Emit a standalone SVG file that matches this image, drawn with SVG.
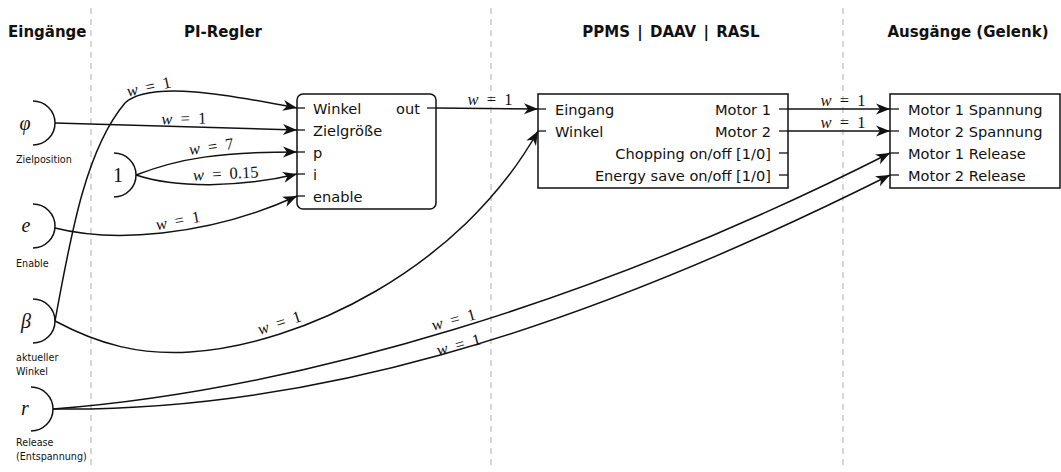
<svg xmlns="http://www.w3.org/2000/svg" width="1061" height="472" viewBox="0 0 1061 472">
<style>
.sep{stroke:#bbbbbb;stroke-width:1.2;stroke-dasharray:6,5;fill:none}
.title{font-family:"DejaVu Sans",sans-serif;font-weight:bold;font-size:15px;fill:#111}
.port{font-family:"DejaVu Sans",sans-serif;font-size:14.6px;fill:#111}
.small{font-family:"DejaVu Sans",sans-serif;font-size:9.6px;fill:#111}
.sym{font-family:"Liberation Serif",serif;font-style:italic;font-size:20px;fill:#111}
.num{font-family:"Liberation Serif",serif;font-size:20px;fill:#111}
.w{font-family:"Liberation Serif",serif;font-size:16.5px;fill:#111;word-spacing:4px}
.w tspan{font-style:italic}
.box{fill:#fff;stroke:#111;stroke-width:1.5}
.arc{fill:none;stroke:#111;stroke-width:1.5}
.stub{stroke:#111;stroke-width:1.3}
.edge{fill:none;stroke:#111;stroke-width:1.5;marker-end:url(#ah)}
</style>
<defs>
<marker id="ah" markerUnits="userSpaceOnUse" markerWidth="16" markerHeight="13" viewBox="-15 -6.5 16 13" refX="0" refY="0" orient="auto">
<path d="M0,0 L-14,-5.5 L-10,0 L-14,5.5 Z" fill="#111"/>
</marker>
</defs>
<rect width="1061" height="472" fill="#fff"/>
<g id="separators">
<line class="sep" x1="91" y1="8" x2="91" y2="470"/>
<line class="sep" x1="491" y1="8" x2="491" y2="470"/>
<line class="sep" x1="843" y1="8" x2="843" y2="470"/>
</g>
<g id="titles">
<text class="title" x="8" y="37">Eingänge</text>
<text class="title" x="223" y="37" text-anchor="middle">PI-Regler</text>
<text class="title" x="671" y="37" text-anchor="middle" style="word-spacing:2px">PPMS | DAAV | RASL</text>
<text class="title" x="968" y="37" text-anchor="middle">Ausgänge (Gelenk)</text>
</g>
<g id="in-phi">
<path class="arc" d="M33,101 A22,22 0 0 1 33,145"/>
<text class="sym" x="25" y="130" text-anchor="middle">φ</text>
<text class="small" x="16" y="163">Zielposition</text>
</g>
<g id="const-1">
<path class="arc" d="M114,153 A22,22 0 0 1 114,197"/>
<text class="num" x="118" y="182" text-anchor="middle">1</text>
</g>
<g id="in-e">
<path class="arc" d="M33,204 A22,22 0 0 1 33,248"/>
<text class="sym" x="26" y="232" text-anchor="middle">e</text>
<text class="small" x="16" y="267">Enable</text>
</g>
<g id="in-beta">
<path class="arc" d="M33,299 A22,22 0 0 1 33,343"/>
<text class="sym" x="26" y="328" text-anchor="middle">β</text>
<text class="small" x="16" y="361">aktueller</text>
<text class="small" x="16" y="375">Winkel</text>
</g>
<g id="in-r">
<path class="arc" d="M31,387 A22,22 0 0 1 31,431"/>
<text class="sym" x="25" y="415" text-anchor="middle">r</text>
<text class="small" x="16" y="446">Release</text>
<text class="small" x="16" y="460">(Entspannung)</text>
</g>
<g id="pi-regler">
<rect class="box" x="297" y="94" width="139" height="115" rx="6"/>
<line class="stub" x1="297" y1="108" x2="305" y2="108"/>
<line class="stub" x1="297" y1="130" x2="305" y2="130"/>
<line class="stub" x1="297" y1="152" x2="305" y2="152"/>
<line class="stub" x1="297" y1="174" x2="305" y2="174"/>
<line class="stub" x1="297" y1="196" x2="305" y2="196"/>
<line class="stub" x1="427" y1="108" x2="436" y2="108"/>
<text class="port" x="313" y="114">Winkel</text>
<text class="port" x="313" y="136">Zielgröße</text>
<text class="port" x="313" y="158">p</text>
<text class="port" x="313" y="180">i</text>
<text class="port" x="313" y="202">enable</text>
<text class="port" x="420" y="114" text-anchor="end">out</text>
</g>
<g id="ppms">
<rect class="box" x="538" y="94" width="250" height="94"/>
<line class="stub" x1="538" y1="109" x2="546" y2="109"/>
<line class="stub" x1="538" y1="131" x2="546" y2="131"/>
<line class="stub" x1="779" y1="109" x2="788" y2="109"/>
<line class="stub" x1="779" y1="131" x2="788" y2="131"/>
<line class="stub" x1="779" y1="153" x2="788" y2="153"/>
<line class="stub" x1="779" y1="175" x2="788" y2="175"/>
<text class="port" x="555" y="115">Eingang</text>
<text class="port" x="555" y="137">Winkel</text>
<text class="port" x="771" y="115" text-anchor="end">Motor 1</text>
<text class="port" x="771" y="137" text-anchor="end">Motor 2</text>
<text class="port" x="771" y="159" text-anchor="end">Chopping on/off [1/0]</text>
<text class="port" x="771" y="181" text-anchor="end">Energy save on/off [1/0]</text>
</g>
<g id="outputs">
<rect class="box" x="890" y="94" width="170" height="94"/>
<line class="stub" x1="890" y1="109" x2="899" y2="109"/>
<line class="stub" x1="890" y1="131" x2="899" y2="131"/>
<line class="stub" x1="890" y1="153" x2="899" y2="153"/>
<line class="stub" x1="890" y1="175" x2="899" y2="175"/>
<text class="port" x="908" y="115">Motor 1 Spannung</text>
<text class="port" x="908" y="137">Motor 2 Spannung</text>
<text class="port" x="908" y="159">Motor 1 Release</text>
<text class="port" x="908" y="181">Motor 2 Release</text>
</g>
<g id="connectors">
<path class="edge" d="M55,321 C70,240 85,150 125,103 C150,80 230,95 297,108"/>
<path class="edge" d="M55,123 L297,130"/>
<path class="edge" d="M136,175 C180,158 220,152 297,152"/>
<path class="edge" d="M136,175 C175,188 240,188 297,174"/>
<path class="edge" d="M55,228 C110,242 205,238 297,196"/>
<path class="edge" d="M436,108 L538,109"/>
<path class="edge" d="M55,321 C100,345 140,355 190,352 C300,345 460,270 538,131"/>
<path class="edge" d="M788,109 L890,109"/>
<path class="edge" d="M788,131 L890,131"/>
<path class="edge" d="M53,409 C300,390 600,300 890,153"/>
<path class="edge" d="M53,409 C300,412 560,340 890,175"/>
<g id="weights">
<text class="w" transform="translate(150,92) rotate(-12)" text-anchor="middle"><tspan>w</tspan> = 1</text>
<text class="w" transform="translate(184,124) rotate(-1.5)" text-anchor="middle"><tspan>w</tspan> = 1</text>
<text class="w" transform="translate(212,152) rotate(-8)" text-anchor="middle"><tspan>w</tspan> = 7</text>
<text class="w" transform="translate(226,179) rotate(-3)" text-anchor="middle"><tspan>w</tspan> = 0.15</text>
<text class="w" transform="translate(179,226) rotate(-11)" text-anchor="middle"><tspan>w</tspan> = 1</text>
<text class="w" x="490" y="105" text-anchor="middle"><tspan>w</tspan> = 1</text>
<text class="w" x="843" y="106" text-anchor="middle"><tspan>w</tspan> = 1</text>
<text class="w" x="843" y="128" text-anchor="middle"><tspan>w</tspan> = 1</text>
<text class="w" transform="translate(281,328) rotate(-18)" text-anchor="middle"><tspan>w</tspan> = 1</text>
<text class="w" transform="translate(455,325) rotate(-15)" text-anchor="middle"><tspan>w</tspan> = 1</text>
<text class="w" transform="translate(460,350) rotate(-15)" text-anchor="middle"><tspan>w</tspan> = 1</text>
</g>
</g>
</svg>
